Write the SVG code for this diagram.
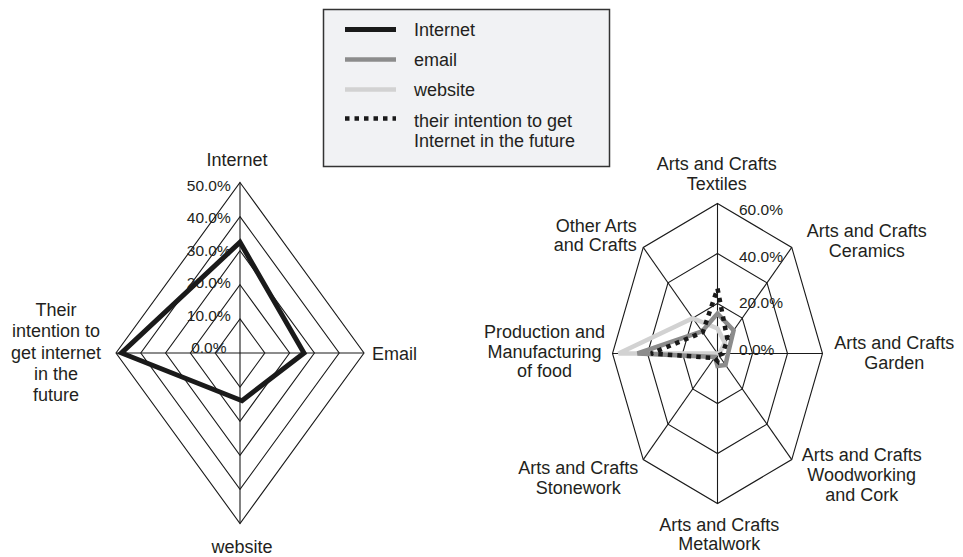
<svg xmlns="http://www.w3.org/2000/svg" width="963" height="557" viewBox="0 0 963 557">
<style>
  text { font-family: "Liberation Sans", Arial, sans-serif; fill: #231f20; }
  .lbl { font-size: 18px; }
  .c { text-anchor: middle; }
  .e { text-anchor: end; }
  .pct { font-size: 15.5px; }
  .grid { fill: none; stroke: #1a1a1a; stroke-width: 1.1; }
  .internet { fill: none; stroke: #1a1a1a; stroke-width: 5; stroke-linejoin: miter; }
  .email { fill: none; stroke: #8c8c8c; stroke-width: 4.5; stroke-linejoin: miter; }
  .website { fill: none; stroke: #d2d2d2; stroke-width: 4.5; stroke-linejoin: miter; }
  .intent { fill: none; stroke: #1a1a1a; stroke-width: 4.5; stroke-dasharray: 4.5 5; }
</style>

<g id="legend">
  <rect x="323.5" y="9.5" width="286" height="157" fill="#f1f2f4" stroke="#333" stroke-width="1.5"/>
  <line x1="345" y1="29.5" x2="396" y2="29.5" class="internet"/>
  <line x1="345" y1="59.5" x2="396" y2="59.5" class="email"/>
  <line x1="345" y1="89.5" x2="396" y2="89.5" class="website"/>
  <line x1="345" y1="118.5" x2="396" y2="118.5" class="intent"/>
  <text class="lbl" x="414" y="35.5">Internet</text>
  <text class="lbl" x="414" y="65.5">email</text>
  <text class="lbl" x="414" y="95.5">website</text>
  <text class="lbl" x="414" y="126.5">their intention to get</text>
  <text class="lbl" x="414" y="146.5">Internet in the future</text>
</g>

<g id="left-chart">
  <g id="left-grid" class="grid">
    <polygon points="240,318.9 264.8,353 240,387.1 215.2,353"/>
    <polygon points="240,284.8 289.6,353 240,421.2 190.4,353"/>
    <polygon points="240,250.7 314.4,353 240,455.3 165.6,353"/>
    <polygon points="240,216.6 339.2,353 240,489.4 140.8,353"/>
    <polygon points="240,182.5 364,353 240,523.5 116,353"/>
    <line x1="240" y1="182.5" x2="240" y2="523.5"/>
    <line x1="116" y1="353" x2="364" y2="353"/>
  </g>
  <g id="left-scale" class="pct">
    <text class="pct c" x="208.8" y="190.7">50.0%</text>
    <text class="pct c" x="208.8" y="223.2">40.0%</text>
    <text class="pct c" x="208.8" y="255.7">30.0%</text>
    <text class="pct c" x="208.8" y="288.2">20.0%</text>
    <text class="pct c" x="208.8" y="320.7">10.0%</text>
    <text class="pct c" x="208.8" y="353.2">0.0%</text>
  </g>
  <g id="left-data">
    <polygon class="internet" points="240,242.2 304,353 242,400.7 121.5,353"/>
  </g>
  <g id="left-labels">
    <text class="lbl c" x="237" y="166">Internet</text>
    <text class="lbl" x="372" y="360">Email</text>
    <text class="lbl c" x="242" y="553">website</text>
    <text class="lbl c" x="56" y="315.7">Their</text>
    <text class="lbl c" x="56" y="337.3">intention to</text>
    <text class="lbl c" x="56" y="358.5">get internet</text>
    <text class="lbl c" x="56" y="379.5">in the</text>
    <text class="lbl c" x="56" y="401">future</text>
  </g>
</g>

<g id="right-chart">
  <g id="right-grid" class="grid">
    <polygon points="717.5,303.5 742.25,318.14 752.5,353.5 742.25,388.86 717.5,403.5 692.75,388.86 682.5,353.5 692.75,318.14"/>
    <polygon points="717.5,253.5 767,282.79 787.5,353.5 767,424.21 717.5,453.5 668,424.21 647.5,353.5 668,282.79"/>
    <polygon points="717.5,203.5 791.75,247.43 822.5,353.5 791.75,459.57 717.5,503.5 643.25,459.57 612.5,353.5 643.25,247.43"/>
    <line x1="717.5" y1="353.5" x2="717.5" y2="203.5"/>
    <line x1="717.5" y1="353.5" x2="791.75" y2="247.43"/>
    <line x1="717.5" y1="353.5" x2="822.5" y2="353.5"/>
    <line x1="717.5" y1="353.5" x2="791.75" y2="459.57"/>
    <line x1="717.5" y1="353.5" x2="717.5" y2="503.5"/>
    <line x1="717.5" y1="353.5" x2="643.25" y2="459.57"/>
    <line x1="717.5" y1="353.5" x2="612.5" y2="353.5"/>
    <line x1="717.5" y1="353.5" x2="643.25" y2="247.43"/>
  </g>
  <g id="right-scale">
    <text class="pct" x="739" y="215">60.0%</text>
    <text class="pct" x="739" y="261.7">40.0%</text>
    <text class="pct" x="739" y="308.3">20.0%</text>
    <text class="pct" x="739" y="354.5">0.0%</text>
  </g>
  <g id="right-data">
    <polygon class="website" points="717.5,328.5 724.9,342.9 719.25,353.5 717.5,353.5 717.5,353.5 717.5,353.5 618.5,353.5 692.75,318.1"/>
    <polygon class="email" points="717.5,313.5 733.6,330.5 728,353.5 725.5,365 717.5,366 715,357 637.5,353.5 702,331.4"/>
    <polygon class="intent" points="717.5,288.5 727.4,339.4 722.75,353.5 718.7,355.3 717.5,361 714.4,358 651,353.5 702.7,332.3"/>
  </g>
  <g id="right-labels">
    <text class="lbl c" x="716.7" y="170">Arts and Crafts</text>
    <text class="lbl c" x="716.7" y="189.5">Textiles</text>
    <text class="lbl c" x="866.7" y="236.7">Arts and Crafts</text>
    <text class="lbl c" x="866.7" y="256.7">Ceramics</text>
    <text class="lbl c" x="894.3" y="349.3">Arts and Crafts</text>
    <text class="lbl c" x="894.3" y="369.3">Garden</text>
    <text class="lbl c" x="861.7" y="460.7">Arts and Crafts</text>
    <text class="lbl c" x="861.7" y="481">Woodworking</text>
    <text class="lbl c" x="861.7" y="500.5">and Cork</text>
    <text class="lbl c" x="719.3" y="531">Arts and Crafts</text>
    <text class="lbl c" x="719.3" y="550">Metalwork</text>
    <text class="lbl c" x="578.3" y="474">Arts and Crafts</text>
    <text class="lbl c" x="578.3" y="494">Stonework</text>
    <text class="lbl c" x="544.5" y="338.3">Production and</text>
    <text class="lbl c" x="544.5" y="357.7">Manufacturing</text>
    <text class="lbl c" x="544.5" y="377">of food</text>
    <text class="lbl e" x="636.7" y="231.7">Other Arts</text>
    <text class="lbl e" x="636.7" y="251">and Crafts</text>
  </g>
</g>
</svg>
